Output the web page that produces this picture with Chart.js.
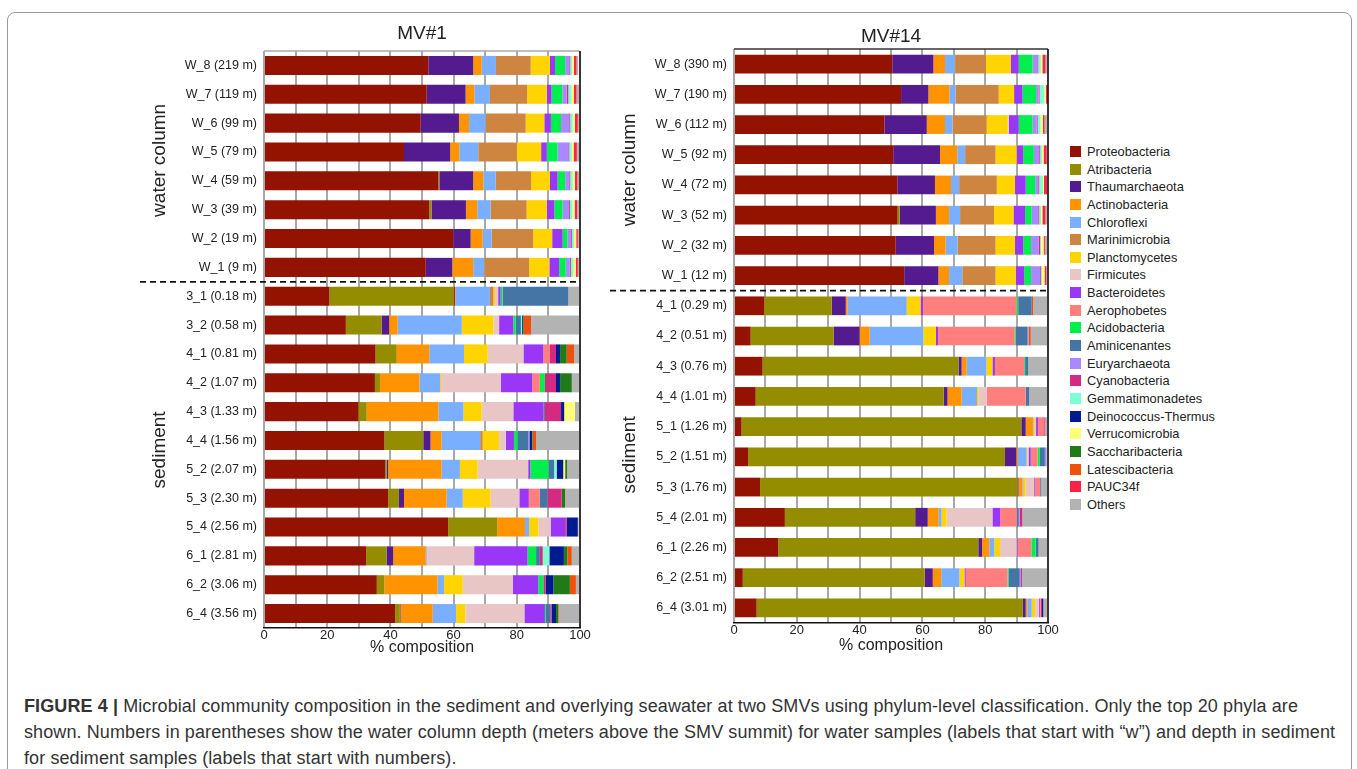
<!DOCTYPE html>
<html>
<head>
<meta charset="utf-8">
<script src="https://cdn.jsdelivr.net/npm/chart.js@4.4.1/dist/chart.umd.min.js"></script>
<style>
  body { margin: 0; background: #fff; font-family: "Liberation Sans", Arial, sans-serif; }
  #page { position: relative; width: 1357px; height: 769px; overflow: hidden; }
  #frame { position: absolute; left: 7px; top: 12px; width: 1343px; height: 800px; border: 1px solid #9a9a9a; border-radius: 8px; }
  canvas { position: absolute; }
  #legend { position: absolute; left: 1070px; top: 143px; font-size: 12.8px; color: #222; }
  #legend div { height: 17.65px; line-height: 17.65px; white-space: nowrap; }
  #legend span { display: inline-block; width: 11px; height: 11px; margin-right: 6px; vertical-align: -1px; }
  #caption { position: absolute; left: 24px; top: 693px; width: 1320px; font-family: "Liberation Sans Narrow", "Liberation Sans", Arial, sans-serif; font-size: 18px; letter-spacing: 0.1px; line-height: 26px; color: #333; white-space: nowrap; }
</style>
</head>
<body>
<div id="page">
  <div id="frame"></div>
  <canvas id="mv1" width="470" height="660" style="left:130px; top:10px;"></canvas>
  <canvas id="mv14" width="460" height="660" style="left:600px; top:10px;"></canvas>
  <div id="legend"></div>
  <div id="caption"><b>FIGURE 4 |</b> Microbial community composition in the sediment and overlying seawater at two SMVs using phylum-level classification. Only the top 20 phyla are<br>shown. Numbers in parentheses show the water column depth (meters above the SMV summit) for water samples (labels that start with “w”) and depth in sediment<br>for sediment samples (labels that start with numbers).</div>
</div>
<script>
const phyla = ['Proteobacteria', 'Atribacteria', 'Thaumarchaeota', 'Actinobacteria', 'Chloroflexi',
  'Marinimicrobia', 'Planctomycetes', 'Firmicutes', 'Bacteroidetes', 'Aerophobetes', 'Acidobacteria',
  'Aminicenantes', 'Euryarchaeota', 'Cyanobacteria', 'Gemmatimonadetes', 'Deinococcus-Thermus',
  'Verrucomicrobia', 'Saccharibacteria', 'Latescibacteria', 'PAUC34f', 'Others'];

const phylumColors = ['#941200', '#948d00', '#541b91', '#ff9300', '#7aaeff', '#cd853f', '#ffd400',
  '#e8c6c6', '#9a36f5', '#ff7f7f', '#00ef4c', '#4575a5', '#aa88ff', '#d42a7f', '#7fffd4', '#001a8f',
  '#ffff77', '#217a17', '#f0500a', '#ff2244', '#b3b3b3'];

const groupNames = ['water column', 'sediment'];
const waterRows = 8;

const mv1Labels = ['W_8 (219 m)', 'W_7 (119 m)', 'W_6 (99 m)', 'W_5 (79 m)', 'W_4 (59 m)', 'W_3 (39 m)',
  'W_2 (19 m)', 'W_1 (9 m)', '3_1 (0.18 m)', '3_2 (0.58 m)', '4_1 (0.81 m)', '4_2 (1.07 m)', '4_3 (1.33 m)',
  '4_4 (1.56 m)', '5_2 (2.07 m)', '5_3 (2.30 m)', '5_4 (2.56 m)', '6_1 (2.81 m)', '6_2 (3.06 m)', '6_4 (3.56 m)'];

const mv14Labels = ['W_8 (390 m)', 'W_7 (190 m)', 'W_6 (112 m)', 'W_5 (92 m)', 'W_4 (72 m)', 'W_3 (52 m)',
  'W_2 (32 m)', 'W_1 (12 m)', '4_1 (0.29 m)', '4_2 (0.51 m)', '4_3 (0.76 m)', '4_4 (1.01 m)', '5_1 (1.26 m)',
  '5_2 (1.51 m)', '5_3 (1.76 m)', '5_4 (2.01 m)', '6_1 (2.26 m)', '6_2 (2.51 m)', '6_4 (3.01 m)'];

// one row per sample, values in the order of phyla
const mv1Rows = [
  [52, 0, 14.2, 2.7, 4.5, 11, 6.1, 0, 1.6, 0, 3.2, 0, 1.3, 0.3, 0.6, 0, 0.6, 0, 0, 0.8, 0.5],
  [51.5, 0, 12.3, 2.8, 4.9, 11.8, 6.2, 0, 1.5, 0, 3.4, 0, 1.4, 0.5, 1, 0, 0.8, 0, 0, 0.8, 0.9],
  [49.6, 0, 12.1, 3.2, 5.2, 12.7, 5.9, 0, 2.1, 0, 3.2, 0, 2.6, 0.3, 0.8, 0, 0.7, 0, 0, 0.9, 0.6],
  [44.3, 0, 14.6, 2.9, 6, 12.2, 7.7, 0, 1.8, 0, 3.4, 0, 3.4, 0.3, 0.8, 0, 0.6, 0, 0, 1, 0.7],
  [55.2, 0.3, 10.7, 3.2, 3.9, 11.2, 6, 0, 2.4, 0, 2.4, 0, 1.3, 0.3, 0.8, 0, 0.7, 0, 0, 0.8, 0.8],
  [52.3, 0.7, 10.9, 3.6, 4.2, 11.4, 6.4, 0, 2.4, 0, 2.6, 0, 2, 0.3, 0.8, 0, 0.7, 0, 0, 0.8, 0.6],
  [59.9, 0, 5.5, 3.8, 2.8, 13.2, 6, 0, 3.3, 0, 1.5, 0, 1.2, 0.3, 0.6, 0, 0.7, 0, 0, 0.5, 0.6],
  [51.2, 0, 8.4, 6.6, 3.5, 14.2, 6.4, 0, 3.1, 0, 2.1, 0, 1.3, 0.3, 0.8, 0, 0.8, 0, 0, 0.6, 0.7],
  [20.7, 39.4, 0.3, 0.3, 10.8, 1.1, 0.5, 1, 0.8, 0, 0.6, 20.8, 0, 0, 0, 0, 0, 0, 0, 0, 3.7],
  [25.9, 11.3, 2.4, 2.7, 20.3, 0, 10, 1.8, 4.5, 0, 0.8, 1.6, 0, 0, 0.3, 0.3, 0, 0.3, 2.3, 0, 15.5],
  [35.3, 6.7, 0, 10.3, 11, 0, 7.5, 11.3, 6.3, 2.1, 0, 0, 0, 1.9, 0, 1.3, 0, 2.1, 2.3, 0, 1.9],
  [35.1, 1.6, 0, 12.5, 6.5, 0, 0.3, 18.9, 10, 2.4, 1.6, 0, 0, 3.5, 0, 1.3, 0, 3.7, 0, 0, 2.6],
  [29.9, 2.6, 0, 22.7, 7.9, 0, 5.8, 10, 9.5, 0, 0, 0.5, 0, 5.1, 0, 1, 3.4, 0, 0, 0, 1.6],
  [38.1, 12.3, 2.3, 3.5, 12.2, 0.8, 5.2, 2.1, 2.6, 0, 1.1, 3.5, 0.3, 0, 0, 0.8, 0, 0.2, 1.1, 0, 13.9],
  [38.3, 0.5, 0.5, 16.9, 5.8, 0, 5.6, 16, 0.7, 0, 5.7, 1.8, 0, 0, 0.8, 2.1, 0.6, 0.6, 0, 0, 4.1],
  [39.3, 3.4, 1.6, 13.5, 5.1, 0, 8.8, 9.1, 3, 3.5, 0, 2.4, 0, 4.5, 0, 0, 0, 1.1, 0, 0, 4.7],
  [58.3, 15.5, 0, 8.8, 1.3, 0, 2.9, 3.9, 4.6, 0, 0, 0, 0, 0.5, 0, 3.5, 0, 0, 0, 0, 0.3],
  [32.3, 6.5, 2.1, 10.3, 0.3, 0, 0, 15, 16.9, 0, 2.7, 1.2, 0, 0.9, 2.1, 4.6, 0, 1.1, 1.4, 0, 2.6],
  [35.7, 2.4, 0, 16.8, 2.1, 0, 5.9, 15.8, 8.1, 0, 1.6, 0, 0, 0.7, 0, 2.5, 0, 5.2, 1.9, 0, 1.1],
  [41.5, 1.5, 0.2, 10.2, 7.4, 0, 2.9, 18.7, 6.5, 0, 0.3, 1.4, 0, 0.4, 0, 1.4, 0, 0.7, 0.2, 0, 6.7]
];

const mv14Rows = [
  [50.4, 0, 13.1, 3.7, 3.2, 9.9, 7.9, 0, 2.5, 0, 4.4, 0, 1.5, 0.3, 0.8, 0, 0.5, 0, 0, 1, 0.5],
  [53.2, 0, 8.7, 6.7, 2, 13.7, 4.9, 0, 2.7, 0, 4.3, 0, 0.8, 0.3, 1.5, 0, 0.5, 0, 0, 1, 0.2],
  [47.9, 0, 13.5, 5.8, 2.4, 10.9, 6.7, 0.3, 3.2, 0, 4.4, 0, 1.3, 0.3, 0.9, 0, 0.8, 0, 0, 0.5, 1.2],
  [50.7, 0, 14.9, 5.5, 2.5, 9.7, 6.7, 0, 2.1, 0, 3.4, 0, 1.7, 0.3, 0.6, 0, 0.5, 0, 0, 1, 0.2],
  [52, 0, 12, 5.1, 2.6, 12, 5.8, 0, 3.4, 0, 3, 0, 1, 0.3, 1.2, 0, 0.3, 0, 0, 1, 0.2],
  [52.1, 0.7, 11.5, 4.2, 3.5, 10.8, 6.2, 0, 3.7, 0, 2.1, 0, 2.1, 0.3, 0.6, 0, 0.4, 0, 0, 1, 0.6],
  [51.5, 0, 12.2, 3.7, 3.8, 12.1, 6.2, 0, 2.6, 0, 2.5, 0, 2.5, 0.4, 0.3, 0, 0.8, 0, 0, 0.4, 0.8],
  [54.2, 0, 10.9, 3.4, 4.2, 10.6, 6.4, 0, 2.7, 0, 2.2, 0, 2.9, 0.3, 0.3, 0, 0.8, 0, 0, 0.6, 0.5],
  [9.6, 21.5, 4.5, 0.6, 18.8, 0, 4.4, 0, 0.8, 29.8, 0.5, 4.3, 0, 0, 0, 0, 0, 0, 0.5, 0, 4.7],
  [5.3, 26.4, 8.3, 3.2, 17.1, 0, 4, 0, 0.7, 24.4, 0.3, 3.8, 0.3, 0, 0, 0, 0, 0, 0.7, 0, 5.5],
  [9.1, 62.4, 1, 1.6, 6.3, 0, 1.9, 0, 0.8, 9.3, 0.3, 1, 0, 0, 0, 0, 0, 0, 0, 0, 6.3],
  [6.9, 59.9, 1.2, 4.5, 4.9, 0, 0.5, 2.6, 0, 12.4, 0, 1.1, 0, 0, 0, 0, 0, 0, 0, 0, 6],
  [2.4, 89.1, 1.4, 2.3, 0.2, 0, 0.4, 0.4, 0.6, 2, 0, 0, 0, 0.3, 0, 0, 0, 0, 0, 0, 0.9],
  [4.5, 81.8, 3.6, 0.5, 2.8, 0, 0.3, 0.3, 0.7, 2.2, 0.7, 1.6, 0.5, 0, 0, 0, 0, 0, 0, 0, 0.5],
  [8.3, 82, 0.3, 1.3, 0.3, 0, 0.7, 2.7, 0.3, 1.6, 0, 0.3, 0, 0, 0, 0, 0, 0, 0, 0, 2.2],
  [16.2, 41.5, 4, 3.5, 0.9, 0, 1.6, 14.6, 2.5, 5.3, 0, 0.6, 0.3, 0.8, 0, 0, 0, 0, 0, 0, 8.2],
  [14.1, 63.7, 1.2, 2.3, 1.6, 0, 1.8, 5.3, 0.3, 4.4, 1.4, 0.5, 0, 0, 0, 0.3, 0, 0, 0, 0, 3.1],
  [2.8, 57.9, 2.6, 2.7, 5.8, 0, 1.6, 0, 0.4, 13.3, 0.3, 3.6, 0.4, 0.3, 0, 0, 0, 0, 0, 0, 8.3],
  [7.2, 84.8, 0.9, 0.5, 1.4, 0, 1.1, 1.2, 0.3, 0.3, 0, 0, 0, 0.4, 0, 0.4, 0, 0, 0, 0, 1.5]
];

const xTicks = [0, 20, 40, 60, 80, 100];

// legend
const legend = document.getElementById('legend');
phyla.forEach((p, i) => {
  const row = document.createElement('div');
  row.innerHTML = `<span style="background:${phylumColors[i]}"></span>${p}`;
  legend.appendChild(row);
});

// draws titles, borders, the dashed separator and the group labels
const decor = {
  id: 'decor',
  afterDatasetsDraw(chart, args, opts) {
    const { ctx, chartArea: a, scales: { y } } = chart;
    ctx.save();
    ctx.lineWidth = 1.5;
    ctx.strokeStyle = opts.topColor;
    ctx.beginPath();
    ctx.moveTo(a.left, a.top);
    ctx.lineTo(a.right, a.top);
    ctx.stroke();
    ctx.strokeStyle = '#111';
    ctx.beginPath();
    ctx.moveTo(a.right, a.top);
    ctx.lineTo(a.right, a.bottom);
    ctx.stroke();

    const ySep = (y.getPixelForValue(waterRows - 1) + y.getPixelForValue(waterRows)) / 2;
    ctx.setLineDash([6, 4]);
    ctx.lineWidth = 1.8;
    ctx.beginPath();
    ctx.moveTo(10, ySep);
    ctx.lineTo(a.right, ySep);
    ctx.stroke();
    ctx.setLineDash([]);

    ctx.fillStyle = '#222';
    ctx.textAlign = 'center';
    ctx.textBaseline = 'middle';
    ctx.font = '19px "Liberation Sans", Arial, sans-serif';
    ctx.fillText(opts.title, (a.left + a.right) / 2, opts.titleY);
    ctx.font = '16px "Liberation Sans", Arial, sans-serif';
    ctx.fillText('% composition', (a.left + a.right) / 2, a.bottom + opts.xTitleGap);

    const n = chart.data.labels.length;
    const spans = [[0, waterRows - 1], [waterRows, n - 1]];
    ctx.font = '19px "Liberation Sans", Arial, sans-serif';
    spans.forEach((s, i) => {
      const yc = (y.getPixelForValue(s[0]) + y.getPixelForValue(s[1])) / 2 + opts.groupShift[i];
      ctx.save();
      ctx.translate(30, yc);
      ctx.rotate(-Math.PI / 2);
      ctx.fillText(groupNames[i], 0, 0);
      ctx.restore();
    });
    ctx.restore();
  }
};

function makeChart(id, labels, rows, cfg) {
  const datasets = phyla.map((p, i) => ({
    label: p,
    data: rows.map(r => r[i]),
    backgroundColor: phylumColors[i],
    borderWidth: 0,
    categoryPercentage: 1,
    barPercentage: cfg.barPct
  }));
  return new Chart(document.getElementById(id), {
    type: 'bar',
    data: { labels, datasets },
    plugins: [decor],
    options: {
      indexAxis: 'y',
      responsive: false,
      animation: false,
      devicePixelRatio: 1,
      layout: { padding: { top: cfg.top, right: cfg.right, left: 0, bottom: 0 } },
      plugins: {
        legend: { display: false },
        tooltip: { enabled: false },
        decor: {
          title: cfg.title, titleY: cfg.titleY, topColor: cfg.topColor,
          groupShift: cfg.groupShift, xTitleGap: cfg.xTitleGap
        }
      },
      scales: {
        x: {
          stacked: true, min: 0, max: 100,
          afterFit: s => { s.height = cfg.xHeight; },
          ticks: {
            stepSize: 10, autoSkip: false, padding: 0, color: '#222',
            font: { size: 13, family: '"Liberation Sans", Arial, sans-serif' },
            callback: v => xTicks.includes(v) ? v : ''
          },
          grid: { color: '#a8a8a8', lineWidth: 2, drawTicks: false },
          border: { display: true, color: '#111', width: 1.5 }
        },
        y: {
          stacked: true,
          afterFit: s => { s.width = cfg.yWidth; },
          ticks: {
            autoSkip: false, padding: 7, color: '#222',
            font: { size: 12.5, family: '"Liberation Sans", Arial, sans-serif' }
          },
          grid: { display: false, drawTicks: false },
          border: { display: false }
        }
      }
    }
  });
}

makeChart('mv1', mv1Labels, mv1Rows, {
  title: 'MV#1', titleY: 24, topColor: '#a8a8a8', barPct: 0.66, xTitleGap: 20,
  top: 41, right: 20, xHeight: 42, yWidth: 134, groupShift: [-6, -5]
});
makeChart('mv14', mv14Labels, mv14Rows, {
  title: 'MV#14', titleY: 27, topColor: '#333', barPct: 0.62, xTitleGap: 23,
  top: 39, right: 12, xHeight: 47, yWidth: 134, groupShift: [0, -2]
});
</script>
</body>
</html>
